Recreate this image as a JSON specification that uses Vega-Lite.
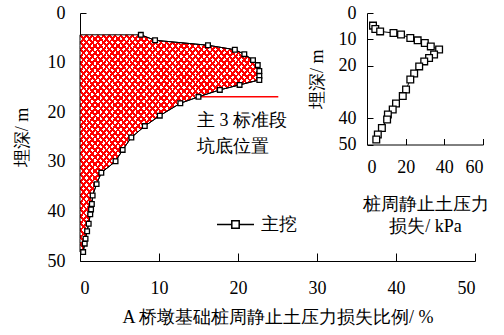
{
  "$schema": "https://vega.github.io/schema/vega-lite/v6.json",
  "padding": {"left": 13, "top": 4, "right": 5, "bottom": 5},
  "width": 395,
  "height": 248,
  "datasets": {
    "main": [
      {"p": 7.7, "d": 4.4}, {"p": 9.5, "d": 5.5}, {"p": 16.2, "d": 6.5}, {"p": 19.6, "d": 7.4},
      {"p": 20.8, "d": 8.3}, {"p": 21.9, "d": 9.5}, {"p": 22.5, "d": 10.5}, {"p": 22.7, "d": 11.7},
      {"p": 22.7, "d": 12.7}, {"p": 22.7, "d": 13.5}, {"p": 20.2, "d": 14.5}, {"p": 17.7, "d": 15.5},
      {"p": 15.0, "d": 16.9}, {"p": 12.7, "d": 18.2}, {"p": 10.1, "d": 20.7}, {"p": 8.2, "d": 22.8},
      {"p": 6.5, "d": 25.1}, {"p": 5.4, "d": 27.6}, {"p": 4.5, "d": 29.9}, {"p": 2.7, "d": 32.2},
      {"p": 2.1, "d": 34.5}, {"p": 1.6, "d": 36.8}, {"p": 1.5, "d": 38.5}, {"p": 1.4, "d": 39.6},
      {"p": 1.3, "d": 40.6}, {"p": 1.1, "d": 42.5}, {"p": 0.9, "d": 44.0}, {"p": 0.7, "d": 45.5},
      {"p": 0.6, "d": 46.5}, {"p": 0.4, "d": 48.2}
    ],
    "inset": [
      {"k": 3.1, "d": 4.8}, {"k": 4.3, "d": 6.1}, {"k": 6.8, "d": 7.0}, {"k": 13.7, "d": 7.6},
      {"k": 17.6, "d": 8.2}, {"k": 22.4, "d": 9.5}, {"k": 26.2, "d": 10.4}, {"k": 29.9, "d": 11.4},
      {"k": 33.0, "d": 12.7}, {"k": 37.3, "d": 13.9}, {"k": 34.7, "d": 15.8}, {"k": 32.1, "d": 17.1},
      {"k": 29.6, "d": 18.4}, {"k": 27.0, "d": 20.3}, {"k": 24.4, "d": 23.0}, {"k": 22.4, "d": 25.3},
      {"k": 20.2, "d": 29.1}, {"k": 18.5, "d": 31.6}, {"k": 15.0, "d": 34.4}, {"k": 13.3, "d": 36.7},
      {"k": 10.8, "d": 38.6}, {"k": 10.4, "d": 40.5}, {"k": 7.7, "d": 43.7}, {"k": 5.6, "d": 46.2},
      {"k": 4.8, "d": 48.1}
    ],
    "pit": [{"x": 15.0, "x2": 25.1, "d": 16.9}],
    "note": [{"p": 14.8, "d": 21.7, "label": "主 3 标准段\n坑底位置"}]
  },
  "config": {
    "font": "Liberation Serif",
    "view": {"stroke": null},
    "axis": {
      "grid": false, "domainColor": "black", "tickColor": "black", "labelColor": "black",
      "titleColor": "black", "labelFontSize": 18, "titleFontSize": 18, "titleFontWeight": "normal",
      "labelFont": "Liberation Serif", "titleFont": "Liberation Serif", "domainWidth": 1, "tickWidth": 1
    }
  },
  "resolve": {"scale": {"x": "independent", "y": "independent"}, "axis": {"x": "independent", "y": "independent"}},
  "layer": [
    {
      "layer": [
        {
          "data": {"name": "main"},
          "mark": {
            "type": "area", "orient": "horizontal",
            "fill": {"gradient": "linear", "x1": 0, "y1": 0, "x2": 1, "y2": 1, "stops": [
              {"offset":0,"color":"red"},{"offset":0.007,"color":"red"},{"offset":0.007,"color":"white"},{"offset":0.016,"color":"white"},
              {"offset":0.016,"color":"red"},{"offset":0.023,"color":"red"},{"offset":0.023,"color":"white"},{"offset":0.032,"color":"white"},
              {"offset":0.032,"color":"red"},{"offset":0.039,"color":"red"},{"offset":0.039,"color":"white"},{"offset":0.048,"color":"white"},
              {"offset":0.048,"color":"red"},{"offset":0.055,"color":"red"},{"offset":0.055,"color":"white"},{"offset":0.064,"color":"white"},
              {"offset":0.064,"color":"red"},{"offset":0.071,"color":"red"},{"offset":0.071,"color":"white"},{"offset":0.08,"color":"white"},
              {"offset":0.08,"color":"red"},{"offset":0.087,"color":"red"},{"offset":0.087,"color":"white"},{"offset":0.096,"color":"white"},
              {"offset":0.096,"color":"red"},{"offset":0.103,"color":"red"},{"offset":0.103,"color":"white"},{"offset":0.112,"color":"white"},
              {"offset":0.112,"color":"red"},{"offset":0.119,"color":"red"},{"offset":0.119,"color":"white"},{"offset":0.128,"color":"white"},
              {"offset":0.128,"color":"red"},{"offset":0.135,"color":"red"},{"offset":0.135,"color":"white"},{"offset":0.144,"color":"white"},
              {"offset":0.144,"color":"red"},{"offset":0.151,"color":"red"},{"offset":0.151,"color":"white"},{"offset":0.16,"color":"white"},
              {"offset":0.16,"color":"red"},{"offset":0.167,"color":"red"},{"offset":0.167,"color":"white"},{"offset":0.176,"color":"white"},
              {"offset":0.176,"color":"red"},{"offset":0.183,"color":"red"},{"offset":0.183,"color":"white"},{"offset":0.192,"color":"white"},
              {"offset":0.192,"color":"red"},{"offset":0.199,"color":"red"},{"offset":0.199,"color":"white"},{"offset":0.208,"color":"white"},
              {"offset":0.208,"color":"red"},{"offset":0.215,"color":"red"},{"offset":0.215,"color":"white"},{"offset":0.224,"color":"white"},
              {"offset":0.224,"color":"red"},{"offset":0.231,"color":"red"},{"offset":0.231,"color":"white"},{"offset":0.24,"color":"white"},
              {"offset":0.24,"color":"red"},{"offset":0.247,"color":"red"},{"offset":0.247,"color":"white"},{"offset":0.256,"color":"white"},
              {"offset":0.256,"color":"red"},{"offset":0.263,"color":"red"},{"offset":0.263,"color":"white"},{"offset":0.272,"color":"white"},
              {"offset":0.272,"color":"red"},{"offset":0.279,"color":"red"},{"offset":0.279,"color":"white"},{"offset":0.288,"color":"white"},
              {"offset":0.288,"color":"red"},{"offset":0.295,"color":"red"},{"offset":0.295,"color":"white"},{"offset":0.304,"color":"white"},
              {"offset":0.304,"color":"red"},{"offset":0.311,"color":"red"},{"offset":0.311,"color":"white"},{"offset":0.32,"color":"white"},
              {"offset":0.32,"color":"red"},{"offset":0.327,"color":"red"},{"offset":0.327,"color":"white"},{"offset":0.336,"color":"white"},
              {"offset":0.336,"color":"red"},{"offset":0.343,"color":"red"},{"offset":0.343,"color":"white"},{"offset":0.352,"color":"white"},
              {"offset":0.352,"color":"red"},{"offset":0.359,"color":"red"},{"offset":0.359,"color":"white"},{"offset":0.368,"color":"white"},
              {"offset":0.368,"color":"red"},{"offset":0.375,"color":"red"},{"offset":0.375,"color":"white"},{"offset":0.384,"color":"white"},
              {"offset":0.384,"color":"red"},{"offset":0.391,"color":"red"},{"offset":0.391,"color":"white"},{"offset":0.4,"color":"white"},
              {"offset":0.4,"color":"red"},{"offset":0.407,"color":"red"},{"offset":0.407,"color":"white"},{"offset":0.416,"color":"white"},
              {"offset":0.416,"color":"red"},{"offset":0.423,"color":"red"},{"offset":0.423,"color":"white"},{"offset":0.432,"color":"white"},
              {"offset":0.432,"color":"red"},{"offset":0.439,"color":"red"},{"offset":0.439,"color":"white"},{"offset":0.448,"color":"white"},
              {"offset":0.448,"color":"red"},{"offset":0.455,"color":"red"},{"offset":0.455,"color":"white"},{"offset":0.464,"color":"white"},
              {"offset":0.464,"color":"red"},{"offset":0.471,"color":"red"},{"offset":0.471,"color":"white"},{"offset":0.48,"color":"white"},
              {"offset":0.48,"color":"red"},{"offset":0.487,"color":"red"},{"offset":0.487,"color":"white"},{"offset":0.496,"color":"white"},
              {"offset":0.496,"color":"red"},{"offset":0.503,"color":"red"},{"offset":0.503,"color":"white"},{"offset":0.512,"color":"white"},
              {"offset":0.512,"color":"red"},{"offset":0.519,"color":"red"},{"offset":0.519,"color":"white"},{"offset":0.528,"color":"white"},
              {"offset":0.528,"color":"red"},{"offset":0.535,"color":"red"},{"offset":0.535,"color":"white"},{"offset":0.544,"color":"white"},
              {"offset":0.544,"color":"red"},{"offset":0.551,"color":"red"},{"offset":0.551,"color":"white"},{"offset":0.56,"color":"white"},
              {"offset":0.56,"color":"red"},{"offset":0.567,"color":"red"},{"offset":0.567,"color":"white"},{"offset":0.576,"color":"white"},
              {"offset":0.576,"color":"red"},{"offset":0.583,"color":"red"},{"offset":0.583,"color":"white"},{"offset":0.592,"color":"white"},
              {"offset":0.592,"color":"red"},{"offset":0.599,"color":"red"},{"offset":0.599,"color":"white"},{"offset":0.608,"color":"white"},
              {"offset":0.608,"color":"red"},{"offset":0.615,"color":"red"},{"offset":0.615,"color":"white"},{"offset":0.624,"color":"white"},
              {"offset":0.624,"color":"red"},{"offset":0.631,"color":"red"},{"offset":0.631,"color":"white"},{"offset":0.64,"color":"white"},
              {"offset":0.64,"color":"red"},{"offset":0.647,"color":"red"},{"offset":0.647,"color":"white"},{"offset":0.656,"color":"white"},
              {"offset":0.656,"color":"red"},{"offset":0.663,"color":"red"},{"offset":0.663,"color":"white"},{"offset":0.672,"color":"white"},
              {"offset":0.672,"color":"red"},{"offset":0.679,"color":"red"},{"offset":0.679,"color":"white"},{"offset":0.688,"color":"white"},
              {"offset":0.688,"color":"red"},{"offset":0.695,"color":"red"},{"offset":0.695,"color":"white"},{"offset":0.704,"color":"white"},
              {"offset":0.704,"color":"red"},{"offset":0.711,"color":"red"},{"offset":0.711,"color":"white"},{"offset":0.72,"color":"white"},
              {"offset":0.72,"color":"red"},{"offset":0.727,"color":"red"},{"offset":0.727,"color":"white"},{"offset":0.736,"color":"white"},
              {"offset":0.736,"color":"red"},{"offset":0.743,"color":"red"},{"offset":0.743,"color":"white"},{"offset":0.752,"color":"white"},
              {"offset":0.752,"color":"red"},{"offset":0.759,"color":"red"},{"offset":0.759,"color":"white"},{"offset":0.768,"color":"white"},
              {"offset":0.768,"color":"red"},{"offset":0.775,"color":"red"},{"offset":0.775,"color":"white"},{"offset":0.784,"color":"white"},
              {"offset":0.784,"color":"red"},{"offset":0.791,"color":"red"},{"offset":0.791,"color":"white"},{"offset":0.8,"color":"white"},
              {"offset":0.8,"color":"red"},{"offset":0.807,"color":"red"},{"offset":0.807,"color":"white"},{"offset":0.816,"color":"white"},
              {"offset":0.816,"color":"red"},{"offset":0.823,"color":"red"},{"offset":0.823,"color":"white"},{"offset":0.832,"color":"white"},
              {"offset":0.832,"color":"red"},{"offset":0.839,"color":"red"},{"offset":0.839,"color":"white"},{"offset":0.848,"color":"white"},
              {"offset":0.848,"color":"red"},{"offset":0.855,"color":"red"},{"offset":0.855,"color":"white"},{"offset":0.864,"color":"white"},
              {"offset":0.864,"color":"red"},{"offset":0.871,"color":"red"},{"offset":0.871,"color":"white"},{"offset":0.88,"color":"white"},
              {"offset":0.88,"color":"red"},{"offset":0.887,"color":"red"},{"offset":0.887,"color":"white"},{"offset":0.896,"color":"white"},
              {"offset":0.896,"color":"red"},{"offset":0.903,"color":"red"},{"offset":0.903,"color":"white"},{"offset":0.912,"color":"white"},
              {"offset":0.912,"color":"red"},{"offset":0.919,"color":"red"},{"offset":0.919,"color":"white"},{"offset":0.928,"color":"white"},
              {"offset":0.928,"color":"red"},{"offset":0.935,"color":"red"},{"offset":0.935,"color":"white"},{"offset":0.944,"color":"white"},
              {"offset":0.944,"color":"red"},{"offset":0.951,"color":"red"},{"offset":0.951,"color":"white"},{"offset":0.96,"color":"white"},
              {"offset":0.96,"color":"red"},{"offset":0.967,"color":"red"},{"offset":0.967,"color":"white"},{"offset":0.976,"color":"white"},
              {"offset":0.976,"color":"red"},{"offset":0.983,"color":"red"},{"offset":0.983,"color":"white"},{"offset":0.992,"color":"white"},
              {"offset":0.992,"color":"red"},{"offset":0.999,"color":"red"},{"offset":0.999,"color":"white"},{"offset":1,"color":"white"}
            ]},
            "stroke": null
          },
          "encoding": {
            "x": {"field": "p", "type": "quantitative", "scale": {"domain": [0, 50]},
              "axis": {"orient": "bottom", "values": [0, 10, 20, 30, 40, 50], "tickSize": -8, "labelPadding": 26,
                "title": "A 桥墩基础桩周静止土压力损失比例/ %", "titlePadding": 11}},
            "y": {"field": "d", "type": "quantitative", "scale": {"domain": [0, 50], "reverse": true},
              "axis": {"orient": "left", "values": [0, 10, 20, 30, 40, 50], "tickSize": -6, "labelPadding": 21,
                "title": "埋深/ m", "titlePadding": 16}}
          }
        },
        {
          "data": {"name": "main"},
          "mark": {
            "type": "area", "orient": "horizontal",
            "fill": {"gradient": "linear", "x1": 1, "y1": 0, "x2": 0, "y2": 1, "stops": [
              {"offset":0,"color":"red"},{"offset":0.007,"color":"red"},{"offset":0.007,"color":"rgba(255,0,0,0)"},{"offset":0.016,"color":"rgba(255,0,0,0)"},
              {"offset":0.016,"color":"red"},{"offset":0.023,"color":"red"},{"offset":0.023,"color":"rgba(255,0,0,0)"},{"offset":0.032,"color":"rgba(255,0,0,0)"},
              {"offset":0.032,"color":"red"},{"offset":0.039,"color":"red"},{"offset":0.039,"color":"rgba(255,0,0,0)"},{"offset":0.048,"color":"rgba(255,0,0,0)"},
              {"offset":0.048,"color":"red"},{"offset":0.055,"color":"red"},{"offset":0.055,"color":"rgba(255,0,0,0)"},{"offset":0.064,"color":"rgba(255,0,0,0)"},
              {"offset":0.064,"color":"red"},{"offset":0.071,"color":"red"},{"offset":0.071,"color":"rgba(255,0,0,0)"},{"offset":0.08,"color":"rgba(255,0,0,0)"},
              {"offset":0.08,"color":"red"},{"offset":0.087,"color":"red"},{"offset":0.087,"color":"rgba(255,0,0,0)"},{"offset":0.096,"color":"rgba(255,0,0,0)"},
              {"offset":0.096,"color":"red"},{"offset":0.103,"color":"red"},{"offset":0.103,"color":"rgba(255,0,0,0)"},{"offset":0.112,"color":"rgba(255,0,0,0)"},
              {"offset":0.112,"color":"red"},{"offset":0.119,"color":"red"},{"offset":0.119,"color":"rgba(255,0,0,0)"},{"offset":0.128,"color":"rgba(255,0,0,0)"},
              {"offset":0.128,"color":"red"},{"offset":0.135,"color":"red"},{"offset":0.135,"color":"rgba(255,0,0,0)"},{"offset":0.144,"color":"rgba(255,0,0,0)"},
              {"offset":0.144,"color":"red"},{"offset":0.151,"color":"red"},{"offset":0.151,"color":"rgba(255,0,0,0)"},{"offset":0.16,"color":"rgba(255,0,0,0)"},
              {"offset":0.16,"color":"red"},{"offset":0.167,"color":"red"},{"offset":0.167,"color":"rgba(255,0,0,0)"},{"offset":0.176,"color":"rgba(255,0,0,0)"},
              {"offset":0.176,"color":"red"},{"offset":0.183,"color":"red"},{"offset":0.183,"color":"rgba(255,0,0,0)"},{"offset":0.192,"color":"rgba(255,0,0,0)"},
              {"offset":0.192,"color":"red"},{"offset":0.199,"color":"red"},{"offset":0.199,"color":"rgba(255,0,0,0)"},{"offset":0.208,"color":"rgba(255,0,0,0)"},
              {"offset":0.208,"color":"red"},{"offset":0.215,"color":"red"},{"offset":0.215,"color":"rgba(255,0,0,0)"},{"offset":0.224,"color":"rgba(255,0,0,0)"},
              {"offset":0.224,"color":"red"},{"offset":0.231,"color":"red"},{"offset":0.231,"color":"rgba(255,0,0,0)"},{"offset":0.24,"color":"rgba(255,0,0,0)"},
              {"offset":0.24,"color":"red"},{"offset":0.247,"color":"red"},{"offset":0.247,"color":"rgba(255,0,0,0)"},{"offset":0.256,"color":"rgba(255,0,0,0)"},
              {"offset":0.256,"color":"red"},{"offset":0.263,"color":"red"},{"offset":0.263,"color":"rgba(255,0,0,0)"},{"offset":0.272,"color":"rgba(255,0,0,0)"},
              {"offset":0.272,"color":"red"},{"offset":0.279,"color":"red"},{"offset":0.279,"color":"rgba(255,0,0,0)"},{"offset":0.288,"color":"rgba(255,0,0,0)"},
              {"offset":0.288,"color":"red"},{"offset":0.295,"color":"red"},{"offset":0.295,"color":"rgba(255,0,0,0)"},{"offset":0.304,"color":"rgba(255,0,0,0)"},
              {"offset":0.304,"color":"red"},{"offset":0.311,"color":"red"},{"offset":0.311,"color":"rgba(255,0,0,0)"},{"offset":0.32,"color":"rgba(255,0,0,0)"},
              {"offset":0.32,"color":"red"},{"offset":0.327,"color":"red"},{"offset":0.327,"color":"rgba(255,0,0,0)"},{"offset":0.336,"color":"rgba(255,0,0,0)"},
              {"offset":0.336,"color":"red"},{"offset":0.343,"color":"red"},{"offset":0.343,"color":"rgba(255,0,0,0)"},{"offset":0.352,"color":"rgba(255,0,0,0)"},
              {"offset":0.352,"color":"red"},{"offset":0.359,"color":"red"},{"offset":0.359,"color":"rgba(255,0,0,0)"},{"offset":0.368,"color":"rgba(255,0,0,0)"},
              {"offset":0.368,"color":"red"},{"offset":0.375,"color":"red"},{"offset":0.375,"color":"rgba(255,0,0,0)"},{"offset":0.384,"color":"rgba(255,0,0,0)"},
              {"offset":0.384,"color":"red"},{"offset":0.391,"color":"red"},{"offset":0.391,"color":"rgba(255,0,0,0)"},{"offset":0.4,"color":"rgba(255,0,0,0)"},
              {"offset":0.4,"color":"red"},{"offset":0.407,"color":"red"},{"offset":0.407,"color":"rgba(255,0,0,0)"},{"offset":0.416,"color":"rgba(255,0,0,0)"},
              {"offset":0.416,"color":"red"},{"offset":0.423,"color":"red"},{"offset":0.423,"color":"rgba(255,0,0,0)"},{"offset":0.432,"color":"rgba(255,0,0,0)"},
              {"offset":0.432,"color":"red"},{"offset":0.439,"color":"red"},{"offset":0.439,"color":"rgba(255,0,0,0)"},{"offset":0.448,"color":"rgba(255,0,0,0)"},
              {"offset":0.448,"color":"red"},{"offset":0.455,"color":"red"},{"offset":0.455,"color":"rgba(255,0,0,0)"},{"offset":0.464,"color":"rgba(255,0,0,0)"},
              {"offset":0.464,"color":"red"},{"offset":0.471,"color":"red"},{"offset":0.471,"color":"rgba(255,0,0,0)"},{"offset":0.48,"color":"rgba(255,0,0,0)"},
              {"offset":0.48,"color":"red"},{"offset":0.487,"color":"red"},{"offset":0.487,"color":"rgba(255,0,0,0)"},{"offset":0.496,"color":"rgba(255,0,0,0)"},
              {"offset":0.496,"color":"red"},{"offset":0.503,"color":"red"},{"offset":0.503,"color":"rgba(255,0,0,0)"},{"offset":0.512,"color":"rgba(255,0,0,0)"},
              {"offset":0.512,"color":"red"},{"offset":0.519,"color":"red"},{"offset":0.519,"color":"rgba(255,0,0,0)"},{"offset":0.528,"color":"rgba(255,0,0,0)"},
              {"offset":0.528,"color":"red"},{"offset":0.535,"color":"red"},{"offset":0.535,"color":"rgba(255,0,0,0)"},{"offset":0.544,"color":"rgba(255,0,0,0)"},
              {"offset":0.544,"color":"red"},{"offset":0.551,"color":"red"},{"offset":0.551,"color":"rgba(255,0,0,0)"},{"offset":0.56,"color":"rgba(255,0,0,0)"},
              {"offset":0.56,"color":"red"},{"offset":0.567,"color":"red"},{"offset":0.567,"color":"rgba(255,0,0,0)"},{"offset":0.576,"color":"rgba(255,0,0,0)"},
              {"offset":0.576,"color":"red"},{"offset":0.583,"color":"red"},{"offset":0.583,"color":"rgba(255,0,0,0)"},{"offset":0.592,"color":"rgba(255,0,0,0)"},
              {"offset":0.592,"color":"red"},{"offset":0.599,"color":"red"},{"offset":0.599,"color":"rgba(255,0,0,0)"},{"offset":0.608,"color":"rgba(255,0,0,0)"},
              {"offset":0.608,"color":"red"},{"offset":0.615,"color":"red"},{"offset":0.615,"color":"rgba(255,0,0,0)"},{"offset":0.624,"color":"rgba(255,0,0,0)"},
              {"offset":0.624,"color":"red"},{"offset":0.631,"color":"red"},{"offset":0.631,"color":"rgba(255,0,0,0)"},{"offset":0.64,"color":"rgba(255,0,0,0)"},
              {"offset":0.64,"color":"red"},{"offset":0.647,"color":"red"},{"offset":0.647,"color":"rgba(255,0,0,0)"},{"offset":0.656,"color":"rgba(255,0,0,0)"},
              {"offset":0.656,"color":"red"},{"offset":0.663,"color":"red"},{"offset":0.663,"color":"rgba(255,0,0,0)"},{"offset":0.672,"color":"rgba(255,0,0,0)"},
              {"offset":0.672,"color":"red"},{"offset":0.679,"color":"red"},{"offset":0.679,"color":"rgba(255,0,0,0)"},{"offset":0.688,"color":"rgba(255,0,0,0)"},
              {"offset":0.688,"color":"red"},{"offset":0.695,"color":"red"},{"offset":0.695,"color":"rgba(255,0,0,0)"},{"offset":0.704,"color":"rgba(255,0,0,0)"},
              {"offset":0.704,"color":"red"},{"offset":0.711,"color":"red"},{"offset":0.711,"color":"rgba(255,0,0,0)"},{"offset":0.72,"color":"rgba(255,0,0,0)"},
              {"offset":0.72,"color":"red"},{"offset":0.727,"color":"red"},{"offset":0.727,"color":"rgba(255,0,0,0)"},{"offset":0.736,"color":"rgba(255,0,0,0)"},
              {"offset":0.736,"color":"red"},{"offset":0.743,"color":"red"},{"offset":0.743,"color":"rgba(255,0,0,0)"},{"offset":0.752,"color":"rgba(255,0,0,0)"},
              {"offset":0.752,"color":"red"},{"offset":0.759,"color":"red"},{"offset":0.759,"color":"rgba(255,0,0,0)"},{"offset":0.768,"color":"rgba(255,0,0,0)"},
              {"offset":0.768,"color":"red"},{"offset":0.775,"color":"red"},{"offset":0.775,"color":"rgba(255,0,0,0)"},{"offset":0.784,"color":"rgba(255,0,0,0)"},
              {"offset":0.784,"color":"red"},{"offset":0.791,"color":"red"},{"offset":0.791,"color":"rgba(255,0,0,0)"},{"offset":0.8,"color":"rgba(255,0,0,0)"},
              {"offset":0.8,"color":"red"},{"offset":0.807,"color":"red"},{"offset":0.807,"color":"rgba(255,0,0,0)"},{"offset":0.816,"color":"rgba(255,0,0,0)"},
              {"offset":0.816,"color":"red"},{"offset":0.823,"color":"red"},{"offset":0.823,"color":"rgba(255,0,0,0)"},{"offset":0.832,"color":"rgba(255,0,0,0)"},
              {"offset":0.832,"color":"red"},{"offset":0.839,"color":"red"},{"offset":0.839,"color":"rgba(255,0,0,0)"},{"offset":0.848,"color":"rgba(255,0,0,0)"},
              {"offset":0.848,"color":"red"},{"offset":0.855,"color":"red"},{"offset":0.855,"color":"rgba(255,0,0,0)"},{"offset":0.864,"color":"rgba(255,0,0,0)"},
              {"offset":0.864,"color":"red"},{"offset":0.871,"color":"red"},{"offset":0.871,"color":"rgba(255,0,0,0)"},{"offset":0.88,"color":"rgba(255,0,0,0)"},
              {"offset":0.88,"color":"red"},{"offset":0.887,"color":"red"},{"offset":0.887,"color":"rgba(255,0,0,0)"},{"offset":0.896,"color":"rgba(255,0,0,0)"},
              {"offset":0.896,"color":"red"},{"offset":0.903,"color":"red"},{"offset":0.903,"color":"rgba(255,0,0,0)"},{"offset":0.912,"color":"rgba(255,0,0,0)"},
              {"offset":0.912,"color":"red"},{"offset":0.919,"color":"red"},{"offset":0.919,"color":"rgba(255,0,0,0)"},{"offset":0.928,"color":"rgba(255,0,0,0)"},
              {"offset":0.928,"color":"red"},{"offset":0.935,"color":"red"},{"offset":0.935,"color":"rgba(255,0,0,0)"},{"offset":0.944,"color":"rgba(255,0,0,0)"},
              {"offset":0.944,"color":"red"},{"offset":0.951,"color":"red"},{"offset":0.951,"color":"rgba(255,0,0,0)"},{"offset":0.96,"color":"rgba(255,0,0,0)"},
              {"offset":0.96,"color":"red"},{"offset":0.967,"color":"red"},{"offset":0.967,"color":"rgba(255,0,0,0)"},{"offset":0.976,"color":"rgba(255,0,0,0)"},
              {"offset":0.976,"color":"red"},{"offset":0.983,"color":"red"},{"offset":0.983,"color":"rgba(255,0,0,0)"},{"offset":0.992,"color":"rgba(255,0,0,0)"},
              {"offset":0.992,"color":"red"},{"offset":0.999,"color":"red"},{"offset":0.999,"color":"rgba(255,0,0,0)"},{"offset":1,"color":"rgba(255,0,0,0)"}
            ]},
            "stroke": "black",
            "strokeWidth": 1
          },
          "encoding": {
            "x": {"field": "p", "type": "quantitative"},
            "y": {"field": "d", "type": "quantitative"}
          }
        },
        {
          "data": {"name": "pit"},
          "mark": {"type": "rule", "color": "red", "strokeWidth": 1.5},
          "encoding": {
            "x": {"field": "x", "type": "quantitative"},
            "x2": {"field": "x2"},
            "y": {"field": "d", "type": "quantitative"}
          }
        },
        {
          "data": {"name": "main"},
          "mark": {"type": "line", "strokeWidth": 1},
          "encoding": {
            "x": {"field": "p", "type": "quantitative"},
            "y": {"field": "d", "type": "quantitative"},
            "order": {"field": "d", "type": "quantitative"},
            "color": {"datum": "主挖", "type": "nominal", "scale": {"range": ["black"]},
              "legend": {"title": null, "orient": "none", "legendX": 136, "legendY": 192, "padding": 0,
                "symbolType": "M-1,0H-0.2M0.2,0H1M-0.2,-0.2H0.2V0.2H-0.2Z",
                "symbolSize": 1369, "symbolStrokeWidth": 1.5, "symbolStrokeColor": "black",
                "symbolFillColor": "white", "labelFontSize": 18, "labelFont": "Liberation Serif",
                "labelColor": "black", "labelOffset": 6}}
          }
        },
        {
          "data": {"name": "main"},
          "mark": {"type": "point", "shape": "square", "filled": true, "fill": "white", "stroke": "black",
            "strokeWidth": 1.3, "size": 22, "opacity": 1},
          "encoding": {
            "x": {"field": "p", "type": "quantitative"},
            "y": {"field": "d", "type": "quantitative"}
          }
        },
        {
          "data": {"name": "note"},
          "mark": {"type": "text", "align": "left", "baseline": "middle", "fontSize": 18, "lineHeight": 26,
            "lineBreak": "\n", "color": "black"},
          "encoding": {
            "x": {"field": "p", "type": "quantitative"},
            "y": {"field": "d", "type": "quantitative"},
            "text": {"field": "label"}
          }
        }
      ]
    },
    {
      "layer": [
        {
          "data": {"name": "inset"},
          "mark": {"type": "line", "color": "black", "strokeWidth": 1},
          "encoding": {
            "x": {"field": "k", "type": "quantitative", "scale": {"domain": [0, 60], "range": [287, 403]},
              "axis": {"orient": "bottom", "offset": -116.5, "values": [0, 20, 40, 60], "tickSize": -6, "labelPadding": 20,
                "title": ["桩周静止土压力", "损失/ kPa"], "titleLineHeight": 22, "titlePadding": 19}},
            "y": {"field": "d", "type": "quantitative", "scale": {"domain": [0, 50], "range": [0, 131.5]},
              "axis": {"orient": "left", "offset": -287, "values": [0, 10, 20, 40, 50], "tickSize": -6, "labelPadding": 17,
                "title": "埋深/ m", "titlePadding": 12}},
            "order": {"field": "d", "type": "quantitative"}
          }
        },
        {
          "data": {"name": "inset"},
          "mark": {"type": "point", "shape": "square", "filled": true, "fill": "white", "stroke": "black",
            "strokeWidth": 1.3, "size": 45, "opacity": 1},
          "encoding": {
            "x": {"field": "k", "type": "quantitative"},
            "y": {"field": "d", "type": "quantitative"}
          }
        }
      ]
    }
  ]
}
